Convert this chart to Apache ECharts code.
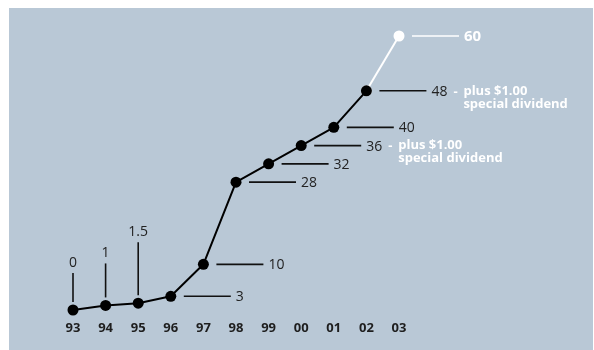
<!DOCTYPE html>
<html>
<head>
<meta charset="utf-8">
<script src="https://cdn.jsdelivr.net/npm/echarts@6/dist/echarts.min.js"></script>
<style>html,body{margin:0;padding:0;background:#fff}#c{width:594px;height:350px}</style>
</head>
<body>
<div id="c"></div>
<script>
// ---- data ----
const categories = ['93','94','95','96','97','98','99','00','01','02','03'];
const dividends  = [0, 1, 1.5, 3, 10, 28, 32, 36, 40, 48, 60];
const valueLabels = ['0','1','1.5','3','10','28','32','36','40','48','60'];
const notes = ['', '', '', '', '', '', '', 'plus $1.00\nspecial dividend', '', 'plus $1.00\nspecial dividend', ''];
const projectedFrom = 9; // index where the projected (white) segment starts

// ---- layout/style (not data) ----
const labelSide = ['top','top','top','right','right','right','right','right','right','right','right'];
const topLeaderLen = [29, 34, 53];
const BG = '#b9c8d6';
const FONT = '"Open Sans", "Liberation Sans", sans-serif';

const actual = dividends.map((v, i) => i <= projectedFrom ? v : '-');
const projected = dividends.map((v, i) => i >= projectedFrom ? v : '-');

const chart = echarts.init(document.getElementById('c'), null, {renderer: 'canvas'});

chart.setOption({
  backgroundColor: '#ffffff',
  animation: false,
  graphic: [{
    type: 'rect', z: -10, silent: true,
    shape: {x: 9, y: 8, width: 584, height: 342},
    style: {fill: BG}
  }],
  grid: {left: 73, top: 36, width: 326, height: 274},
  xAxis: {
    type: 'category', data: categories, boundaryGap: false,
    axisLine: {show: false}, axisTick: {show: false}, splitLine: {show: false},
    axisLabel: {margin: 12, color: '#1e1e1e', fontFamily: FONT, fontWeight: 'bold', fontSize: 13}
  },
  yAxis: {type: 'value', min: 0, max: 60, show: false, splitLine: {show: false}},
  series: [
    {
      type: 'custom', z: 1, silent: true,
      data: dividends.map((v, i) => [i, v]),
      renderItem: function (params, api) {
        const i = params.dataIndex;
        const last = i === dividends.length - 1;
        const p = api.coord([api.value(0), api.value(1)]);
        const lineColor = last ? '#ffffff' : '#111111';
        const children = [];
        if (labelSide[i] === 'top') {
          const y0 = p[1] - 8, y1 = y0 - topLeaderLen[i];
          children.push({type: 'line', shape: {x1: p[0], y1: y0, x2: p[0], y2: y1},
            style: {stroke: lineColor, lineWidth: 1.6}});
          children.push({type: 'text', style: {x: p[0], y: y1 - 3, text: valueLabels[i],
            fill: '#222', font: '14px ' + FONT, align: 'center', verticalAlign: 'bottom'}});
        } else {
          const x0 = p[0] + 13, x1 = x0 + 47;
          children.push({type: 'line', shape: {x1: x0, y1: p[1], x2: x1, y2: p[1]},
            style: {stroke: lineColor, lineWidth: 1.6}});
          children.push({type: 'text', style: {x: x1 + 5, y: p[1] + 1, text: valueLabels[i],
            fill: last ? '#ffffff' : '#222',
            font: (last ? 'bold 15px ' : '14px ') + FONT, align: 'left', verticalAlign: 'middle'}});
          if (notes[i]) {
            children.push({type: 'text', style: {x: x1 + 5 + 22, y: p[1] + 1, text: '-',
              fill: '#ffffff', font: 'bold 13px ' + FONT, align: 'left', verticalAlign: 'middle'}});
            children.push({type: 'text', style: {x: x1 + 5 + 32, y: p[1] - 6.5, text: notes[i],
              fill: '#ffffff', font: 'bold 13px ' + FONT, lineHeight: 13, align: 'left', verticalAlign: 'top'}});
          }
        }
        return {type: 'group', children: children};
      }
    },
    {
      type: 'line', z: 3, data: projected,
      symbol: 'circle', symbolSize: 11,
      lineStyle: {color: '#ffffff', width: 2},
      itemStyle: {color: '#ffffff'}
    },
    {
      type: 'line', z: 4, data: actual,
      symbol: 'circle', symbolSize: 11,
      lineStyle: {color: '#000000', width: 2},
      itemStyle: {color: '#000000'}
    }
  ]
});
</script>
</body>
</html>
